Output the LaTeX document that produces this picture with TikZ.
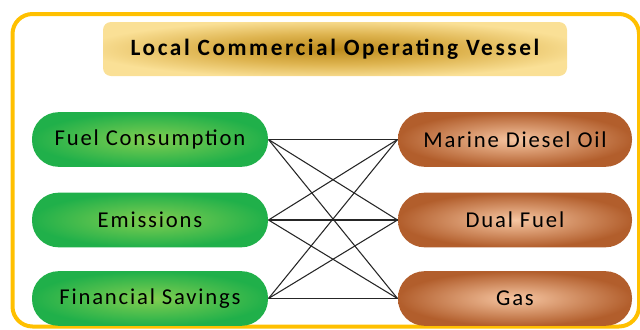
\documentclass[tikz,border=0pt]{standalone}
\usepackage{fontspec}
\newfontfamily\pillfont{Carlito}[LetterSpace=8]
\newfontfamily\headfont{Carlito}[LetterSpace=11]

\definecolor{frameorange}{RGB}{255,192,0}
\definecolor{headout}{RGB}{250,224,150}
\definecolor{headmid}{RGB}{222,180,80}
\definecolor{headin}{RGB}{188,138,26}
\definecolor{greenout}{RGB}{32,176,74}
\definecolor{greenin}{RGB}{130,206,80}
\definecolor{brownout}{RGB}{178,94,44}
\definecolor{brownin}{RGB}{246,198,162}

% glow in the heading box
\pgfdeclareradialshading{headglow}{\pgfpoint{0bp}{0bp}}{%
  color(0bp)=(headin); color(14bp)=(headmid); color(27bp)=(headout); color(50bp)=(headout)}

\tikzset{every picture/.style={line width=0.75pt}}
\tikzset{
  factorpill/.style={rectangle, rounded corners=20pt, minimum width=177pt, minimum height=41pt,
    inner color=greenin, outer color=greenout, font=\pillfont\fontsize{17}{19}\selectfont},
  fuelpill/.style={rectangle, rounded corners=20pt, minimum width=175.5pt, minimum height=41pt,
    inner color=brownin, outer color=brownout, font=\pillfont\fontsize{17}{19}\selectfont},
  link/.style={draw=black!85, line width=0.8pt}
}

\begin{document}
\begin{tikzpicture}[x=0.75pt,y=0.75pt,yscale=-1,xscale=1]
	\useasboundingbox (0,0) rectangle (640,329);

	%Shape: Rounded Rect (outer frame)
	\draw [draw=frameorange, line width=3pt, rounded corners=15pt] (12.5,14) rectangle (639,326.5);

	%Shape: Rounded Rect (heading)
	\node (head) [rectangle, rounded corners=6pt, minimum width=348pt, minimum height=40.5pt,
	  shading=headglow, font=\headfont\bfseries\fontsize{17.5}{19}\selectfont]
	  at (335,49) {Local Commercial Operating Vessel};

	%Left column: factors
	\node (fuel) [factorpill] at (150,139.5) {Fuel Consumption};
	\node (emis) [factorpill] at (150,220) {Emissions};
	\node (save) [factorpill] at (150,298.5) {Financial Savings};

	%Right column: fuel types
	\node (mdo) [fuelpill] at (515,139.5) {Marine Diesel Oil};
	\node (dual) [fuelpill] at (515,220) {Dual Fuel};
	\node (gas) [fuelpill] at (515,298.5) {Gas};

	%Straight Lines: every factor to every fuel
	\foreach \a in {fuel,emis,save}
	  \foreach \b in {mdo,dual,gas}
	    \draw [link] (\a.east) -- (\b.west);

\end{tikzpicture}
\end{document}
